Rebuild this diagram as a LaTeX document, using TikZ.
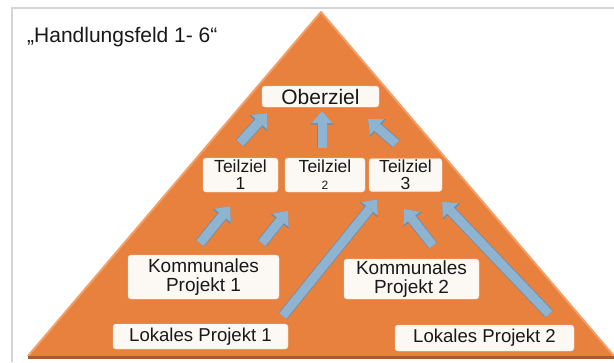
\documentclass[tikz,border=0pt]{standalone}
\usepackage{fontspec}
\setmainfont{Liberation Sans}
\usepackage{xcolor}
\usepackage{tikz}
\usetikzlibrary{arrows.meta}

\begin{document}
\begin{tikzpicture}[x=1pt,y=-1pt]
  \definecolor{rahmen}{RGB}{212,212,212}
  \definecolor{pyr}{RGB}{232,128,62}
  \definecolor{pyrrand}{RGB}{243,160,104}
  \definecolor{pyrbasis}{RGB}{170,90,45}
  \definecolor{boxfill}{RGB}{252,249,245}
  \definecolor{boxrand}{RGB}{236,222,208}
  \definecolor{pfeil}{RGB}{142,180,210}
  \definecolor{pfeilrand}{RGB}{104,142,170}
  \tikzset{
    zielbox/.style={draw=boxrand, fill=boxfill, rounded corners=3pt, inner sep=0pt, align=center, text=black!90},
    blockpfeil/.style={draw=pfeil, line width=9pt,
      -{Triangle[length=12pt,width=21pt,line width=0pt]},
      preaction={draw=pfeilrand, line width=10.5pt, -{Triangle[length=13.5pt,width=23.5pt,line width=0pt]}}}
  }
  \useasboundingbox (0,0) rectangle (614,362);
  % frame
  \draw[rahmen, line width=1.5pt] (614,8) -- (12,8) -- (12,362);
  % pyramid
  \fill[pyr] (28,356) -- (321,12) -- (614,356) -- cycle;
  \draw[pyrrand, line width=2pt, line join=round] (28,356) -- (321,12) -- (614,356);
  \draw[pyrbasis, line width=3pt] (28,357.5) -- (614,357.5);
  \node[anchor=base west, inner sep=0pt, font=\fontsize{21}{24}\selectfont, text=black!90] (titel) at (27,42) {„Handlungsfeld 1- 6“};
  % goals
  \node[zielbox, minimum width=117pt, minimum height=21pt, font=\fontsize{21}{23}\selectfont] (ob) at (320.5,96.5) {Oberziel};
  \node[zielbox, minimum width=75pt, minimum height=34pt, font=\fontsize{17.5}{17}\selectfont] (tz1) at (240.5,175) {Teilziel\\1};
  \node[zielbox, minimum width=80pt, minimum height=34pt, font=\fontsize{17.5}{17}\selectfont] (tz2) at (325,175) {Teilziel\\{\fontsize{12}{12}\selectfont 2}};
  \node[zielbox, minimum width=73pt, minimum height=33pt, font=\fontsize{17.5}{17}\selectfont] (tz3) at (405.5,175) {Teilziel\\3};
  % projects
  \node[zielbox, minimum width=151pt, minimum height=44pt, font=\fontsize{19}{19}\selectfont] (kp1) at (203.5,277) {Kommunales\\Projekt 1};
  \node[zielbox, minimum width=135pt, minimum height=40pt, font=\fontsize{19}{19}\selectfont] (kp2) at (411.5,279) {Kommunales\\Projekt 2};
  \node[zielbox, minimum width=175pt, minimum height=25pt, font=\fontsize{18.6}{19}\selectfont] (lp1) at (200.5,336.5) {Lokales Projekt 1};
  \node[zielbox, minimum width=179pt, minimum height=26pt, font=\fontsize{18.6}{19}\selectfont] (lp2) at (484.5,338) {Lokales Projekt 2};
  % arrows
  \draw[blockpfeil, shorten <=20pt, shorten >=8pt] ([xshift=-14pt]tz1.north) -- ([xshift=-48pt]ob.south);
  \draw[blockpfeil, shorten <=10pt, shorten >=4pt] ([xshift=-3pt]tz2.north) -- ([xshift=1.5pt]ob.south);
  \draw[blockpfeil, shorten <=22pt, shorten >=18pt] ([xshift=7pt]tz3.north) -- ([xshift=34pt]ob.south);
  \draw[blockpfeil, shorten <=15pt, shorten >=18pt] ([xshift=-13pt]kp1.north) -- ([xshift=1pt]tz1.south);
  \draw[blockpfeil, shorten <=15pt, shorten >=24pt] ([xshift=49pt]kp1.north) -- ([xshift=-22pt]tz2.south);
  \draw[blockpfeil, shorten <=10pt, shorten >=10pt] ([xshift=76pt]lp1.north) -- ([xshift=-22pt]tz3.south);
  \draw[blockpfeil, shorten <=17pt, shorten >=22pt] ([xshift=32pt]kp2.north) -- ([xshift=-15pt]tz3.south);
  \draw[blockpfeil, shorten <=15pt, shorten >=14pt] ([xshift=75pt]lp2.north) -- ([xshift=27pt]tz3.south);
\end{tikzpicture}
\end{document}
